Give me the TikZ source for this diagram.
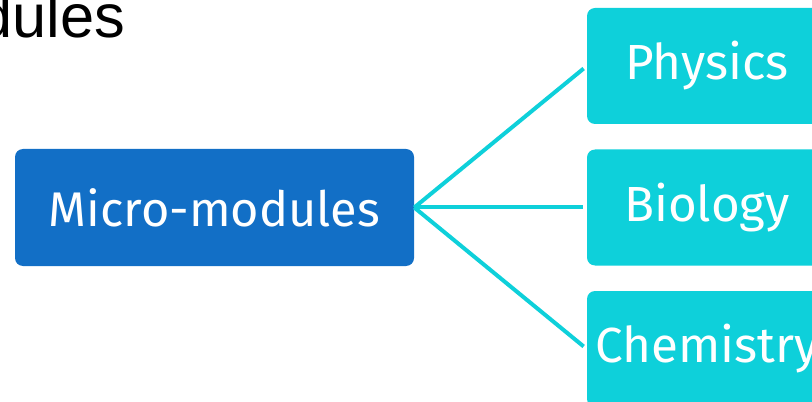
\documentclass[tikz,border=0pt]{standalone}
\usepackage{fontspec}
\setmainfont{Liberation Sans}
\newfontfamily\boxfont{Fira Sans}
\usetikzlibrary{arrows.meta}

\definecolor{mainblue}{RGB}{18,111,198}
\definecolor{subcyan}{RGB}{14,208,218}

\begin{document}
\begin{tikzpicture}[x=0.75pt, y=-0.75pt,
    every node/.style={inner sep=0pt},
    mainbox/.style={rectangle, rounded corners=6pt, fill=mainblue, text=white,
        minimum width=299.25pt, minimum height=87.75pt, font=\boxfont\fontsize{36.5}{40}\selectfont},
    subbox/.style={rectangle, rounded corners=6pt, fill=subcyan, text=white,
        minimum width=180pt, minimum height=87pt, font=\boxfont\fontsize{37}{40}\selectfont},
    branch/.style={draw=subcyan, line width=3pt, shorten >=3pt}]

    \useasboundingbox (0,0) rectangle (812,402);

    % title, cut off at the left edge
    \node[anchor=base west, font=\fontsize{46}{50}\selectfont] (title) at (-22,38) {dules};

    % Micro-modules
    \node[mainbox] (micro) at (214.5,207.5) {Micro-modules};

    % subjects
    \node[subbox] (physics) at (707,66) {Physics};
    \node[subbox] (biology) at (707,207.5) {Biology};
    \node[subbox] (chemistry) at (707,349) {Chemistry};

    % branches
    \draw[branch] (micro.east) -- (physics.west);
    \draw[branch] (micro.east) -- (biology.west);
    \draw[branch] (micro.east) -- (chemistry.west);

\end{tikzpicture}
\end{document}
